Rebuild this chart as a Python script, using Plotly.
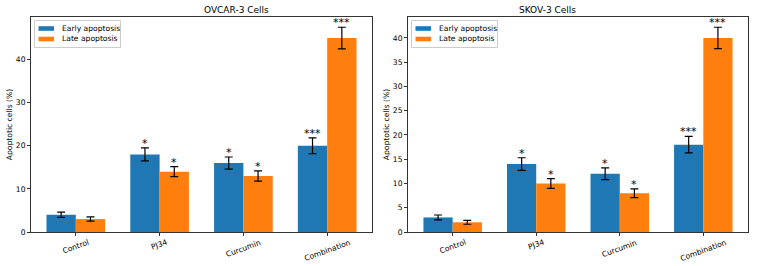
import plotly.graph_objects as go

categories = ["Control", "PJ34", "Curcumin", "Combination"]

ov_early = [4, 18, 16, 20]
ov_early_err = [0.6, 1.5, 1.4, 1.85]
ov_late = [3, 14, 13, 45]
ov_late_err = [0.5, 1.15, 1.2, 2.5]
ov_early_sig = ["", "*", "*", "***"]
ov_late_sig = ["", "*", "*", "***"]

sk_early = [3, 14, 12, 18]
sk_early_err = [0.5, 1.3, 1.2, 1.7]
sk_late = [2, 10, 8, 40]
sk_late_err = [0.4, 1.0, 0.9, 2.2]
sk_early_sig = ["", "*", "*", "***"]
sk_late_sig = ["", "*", "*", "***"]

series_names = ["Early apoptosis", "Late apoptosis"]
titles = ["OVCAR-3 Cells", "SKOV-3 Cells"]
y_ticks = [[0, 10, 20, 30, 40], [0, 5, 10, 15, 20, 25, 30, 35, 40]]

BLUE = "#1f77b4"
ORANGE = "#ff7f0e"
COLORS = [BLUE, ORANGE]
FONT = "DejaVu Sans"
W, H = 758, 266
bw = 0.35
FS = 7.6


def px(x):
    return x / W


def py(y):
    return 1 - y / H


fig = go.Figure()

panels = [
    (ov_early, ov_early_err, ov_late, ov_late_err, ov_early_sig, ov_late_sig),
    (sk_early, sk_early_err, sk_late, sk_late_err, sk_early_sig, sk_late_sig),
]
left_px = [31, 408]
right_px = [372, 748]
domains = [[px(left_px[i]), px(right_px[i])] for i in range(2)]
ydom = [py(232), py(17)]

annotations = []
shapes = []
for p, (e, ee, l, le, es, ls) in enumerate(panels):
    xa = "x" if p == 0 else "x2"
    ya = "y" if p == 0 else "y2"
    idx = list(range(len(categories)))
    for k, (vals, errs, sig, off) in enumerate([
        (e, ee, es, -bw / 2),
        (l, le, ls, bw / 2),
    ]):
        xs = [i + off for i in idx]
        fig.add_trace(go.Bar(
            x=xs, y=vals, width=bw, name=series_names[k],
            marker=dict(color=COLORS[k], line=dict(width=0)),
            error_y=dict(type="data", array=errs, color="black", thickness=1.2, width=4),
            xaxis=xa, yaxis=ya, showlegend=False,
        ))
        for xi, v, er, s in zip(xs, vals, errs, sig):
            if s:
                annotations.append(dict(
                    x=xi, y=v + er, xref=xa, yref=ya, text=s, showarrow=False,
                    yanchor="bottom", xanchor="center", yshift=-4,
                    font=dict(family=FONT, size=11, color="#000000"),
                ))
    # rotated category labels
    for i, c in enumerate(categories):
        annotations.append(dict(
            x=i, y=0, xref=xa, yref=("y domain" if p == 0 else "y2 domain"),
            text=c, showarrow=False, textangle=-20, xanchor="center", yanchor="top",
            yshift=-3, font=dict(family=FONT, size=FS, color="black"),
        ))
    # title
    annotations.append(dict(
        x=sum(domains[p]) / 2, y=ydom[1], xref="paper", yref="paper", yanchor="bottom",
        text=titles[p], showarrow=False, yshift=0,
        font=dict(family=FONT, size=9, color="black"),
    ))
    # legend (matplotlib-style, upper left)
    lx = left_px[p] + 3.5
    shapes.append(dict(
        type="rect", xref="paper", yref="paper",
        x0=px(lx), x1=px(lx + 86), y0=py(20.5), y1=py(47.5),
        fillcolor="rgba(255,255,255,0.8)", line=dict(color="#cccccc", width=1), layer="above",
    ))
    for k in range(2):
        cy = 28.5 + 10.5 * k
        shapes.append(dict(
            type="rect", xref="paper", yref="paper",
            x0=px(lx + 4), x1=px(lx + 19.5), y0=py(cy - 2.3), y1=py(cy + 2.3),
            fillcolor=COLORS[k], line=dict(width=0), layer="above",
        ))
        annotations.append(dict(
            x=px(lx + 25), y=py(cy), xref="paper", yref="paper", xanchor="left", yanchor="middle",
            text=series_names[k], showarrow=False,
            font=dict(family=FONT, size=FS, color="black"),
        ))

ymax = [max(v + er for v, er in zip(ov_late, ov_late_err)) * 1.05,
        max(v + er for v, er in zip(sk_late, sk_late_err)) * 1.05]

axis_common = dict(
    showgrid=False, zeroline=False, showline=True, linecolor="#333333", linewidth=1,
    mirror=True, ticks="outside", ticklen=3, tickcolor="#333333", tickwidth=1,
    tickfont=dict(family=FONT, size=FS, color="black"), automargin=False,
)

fig.update_layout(
    width=W, height=H, margin=dict(l=0, r=0, t=0, b=0),
    paper_bgcolor="white", plot_bgcolor="white", barmode="overlay",
    font=dict(family=FONT, color="black"),
    xaxis=dict(domain=domains[0], range=[-0.535, 3.535], tickvals=[0, 1, 2, 3],
               ticktext=["", "", "", ""], anchor="y", **axis_common),
    yaxis=dict(domain=ydom, range=[0, ymax[0]], tickvals=y_ticks[0], anchor="x",
               title=dict(text="Apoptotic cells (%)", font=dict(family=FONT, size=FS), standoff=2),
               **axis_common),
    xaxis2=dict(domain=domains[1], range=[-0.535, 3.535], tickvals=[0, 1, 2, 3],
                ticktext=["", "", "", ""], anchor="y2", **axis_common),
    yaxis2=dict(domain=ydom, range=[0, ymax[1]], tickvals=y_ticks[1], anchor="x2",
                title=dict(text="Apoptotic cells (%)", font=dict(family=FONT, size=FS), standoff=2),
                **axis_common),
    annotations=annotations,
    shapes=shapes,
    showlegend=False,
)

fig.write_html("out.html")
